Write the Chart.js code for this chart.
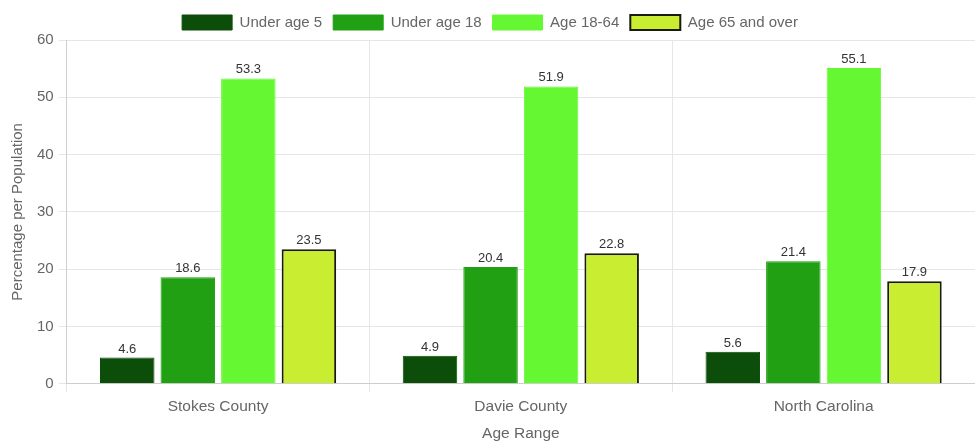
<!DOCTYPE html>
<html><head><meta charset="utf-8">
<script src="https://cdn.jsdelivr.net/npm/chart.js@4/dist/chart.umd.min.js"></script>
<style>html,body{margin:0;padding:0;background:#fff}#wrap{width:975px;height:443px}</style>
</head><body><div id="wrap"><canvas id="c"></canvas></div>
<script>
const categories = ["Stokes County", "Davie County", "North Carolina"];
const seriesNames = ["Under age 5", "Under age 18", "Age 18-64", "Age 65 and over"];
const under5 = [4.6, 4.9, 5.6];
const under18 = [18.6, 20.4, 21.4];
const age18to64 = [53.3, 51.9, 55.1];
const age65plus = [23.5, 22.8, 17.9];
const yTicks = [0, 10, 20, 30, 40, 50, 60];

Chart.defaults.font.family = "'Liberation Sans', Arial, sans-serif";
Chart.defaults.color = "#666";

const labelPlugin = {
  id: 'valLabels',
  afterDatasetsDraw(chart) {
    const ctx = chart.ctx;
    ctx.save();
    ctx.font = "13px 'Liberation Sans', Arial, sans-serif";
    ctx.fillStyle = "#333";
    ctx.textAlign = "center";
    ctx.textBaseline = "bottom";
    chart.data.datasets.forEach((ds, i) => {
      chart.getDatasetMeta(i).data.forEach((bar, j) => {
        ctx.fillText(ds.data[j].toFixed(1), bar.x, bar.y - 2);
      });
    });
    ctx.restore();
  }
};

new Chart(document.getElementById('c'), {
  type: 'bar',
  data: {
    labels: categories,
    datasets: [
      {label: seriesNames[0], data: under5, backgroundColor: '#0b4d09', borderColor: '#0b4d09', borderWidth: 1},
      {label: seriesNames[1], data: under18, backgroundColor: '#22a014', borderColor: '#22a014', borderWidth: 1},
      {label: seriesNames[2], data: age18to64, backgroundColor: '#66f733', borderColor: '#66f733', borderWidth: 1},
      {label: seriesNames[3], data: age65plus, backgroundColor: '#c9ee31', borderColor: '#1a1a0a', borderWidth: 2}
    ]
  },
  options: {
    responsive: true,
    maintainAspectRatio: false,
    animation: false,
    layout: {padding: {top: 4, right: 0, left: 5, bottom: 0}},
    plugins: {
      legend: {
        position: 'top',
        labels: {boxWidth: 50, boxHeight: 15, padding: 11, font: {size: 15}, color: '#666'}
      },
      tooltip: {enabled: false}
    },
    scales: {
      x: {
        grid: {color: '#e6e6e6', offset: true, tickLength: 8},
        ticks: {font: {size: 15.5}, color: '#666', padding: 6},
        title: {display: true, text: 'Age Range', font: {size: 15.5}, color: '#666', padding: {top: 2, bottom: 0}}
      },
      y: {
        min: 0, max: 60,
        afterBuildTicks: (axis) => { axis.ticks = yTicks.map(v => ({value: v})); },
        grid: {color: '#e6e6e6', tickLength: 8},
        ticks: {font: {size: 15}, color: '#666', padding: 5},
        title: {display: true, text: 'Percentage per Population', font: {size: 15}, color: '#666', padding: {top: 4, bottom: 5}}
      }
    }
  },
  plugins: [labelPlugin]
});
</script></body></html>
